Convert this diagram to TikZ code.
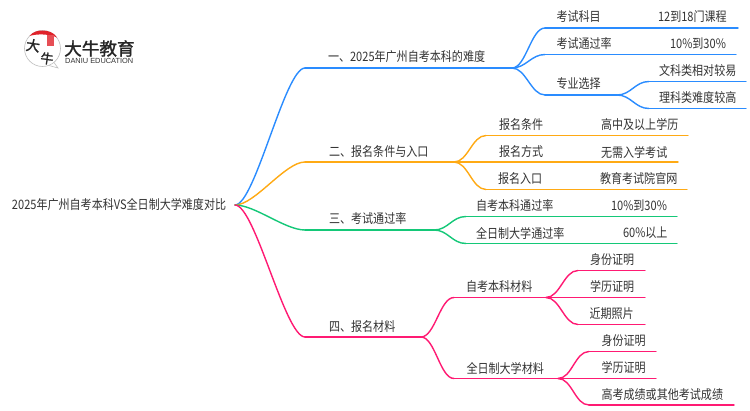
\documentclass[tikz,border=0pt]{standalone}
\usepackage{fontspec}
\setmainfont{Noto Sans CJK SC}[FakeStretch=0.85]
\newfontfamily\logofont{Noto Sans CJK SC}[FakeBold=1.5]
\newfontfamily\latinlogo{Liberation Sans}
\definecolor{cblue}{HTML}{2A8CFF}
\definecolor{corange}{HTML}{FFAA14}
\definecolor{cgreen}{HTML}{14C878}
\definecolor{cpink}{HTML}{FF1A73}
\definecolor{ctext}{HTML}{333333}
\definecolor{cred}{HTML}{E0222A}
\tikzset{
  lbl/.style={anchor=west,inner sep=0pt,outer sep=0pt,text=ctext,font=\fontsize{13}{13}\selectfont},
  branch/.style={line width=1.4pt,line cap=round,line join=round},
  bb/.style={branch,cblue}, oo/.style={branch,corange}, gg/.style={branch,cgreen}, pp/.style={branch,cpink}
}
\newcommand{\rootcurve}[3]{\draw[#1] (#2) .. controls +(20,0) and +(-20,0) .. (#3);}
\newcommand{\subcurve}[3]{\draw[#1] (#2) .. controls +(14,0) and +(-14,0) .. (#3);}
\begin{document}
\begin{tikzpicture}[x=1pt,y=-1pt]
\useasboundingbox (0,0) rectangle (750,410);
\fill[white] (0,0) rectangle (750,410);

% logo
\draw[gray!50,line width=0.6pt] (42.5,48.5) circle[radius=18];
\draw[gray!50,line width=0.6pt] (54,62.5) -- (58,68) -- (49,65.5);
\fill[cred] (29.5,36) .. controls (33,31.5) and (38,30.5) .. (42.5,30.5) .. controls (48,30.5) and (54,32.5) .. (57,37.5) .. controls (50,34) and (37,33.5) .. cycle;
\fill[cred!80] (47,35) rectangle (53.5,46);
\node[inner sep=0pt,text=black!85,rotate=-8,font=\logofont\fontsize{14}{14}\selectfont] (logoa) at (33,45.5) {大};
\node[inner sep=0pt,text=black!85,rotate=-8,font=\logofont\fontsize{13}{13}\selectfont] (logob) at (47,58.5) {牛};
\node[anchor=west,inner sep=0pt,text=black!85,font=\logofont\fontsize{17.6}{18}\selectfont] (logoname) at (64,48.5) {大牛教育};
\node[anchor=west,inner sep=0pt,text=black!80,font=\latinlogo\fontsize{7.4}{8}\selectfont] (logoen) at (65,60.5) {DANIU EDUCATION};

% junction coordinates
\coordinate (root) at (235,205);
\coordinate (A) at (305,68);   \coordinate (Ae) at (512,68);
\coordinate (B) at (305,162);  \coordinate (Be) at (454,162);
\coordinate (C) at (305,230);  \coordinate (Ce) at (434,230);
\coordinate (D) at (305,337);  \coordinate (De) at (421,337);

\coordinate (A1) at (545,28);   \coordinate (A1e) at (738,28);
\coordinate (A2) at (545,54.5); \coordinate (A2e) at (736,54.5);
\coordinate (A3) at (545,95);   \coordinate (A3e) at (617,95);
\coordinate (A31) at (649,81.5); \coordinate (A31e) at (746,81.5);
\coordinate (A32) at (649,108.5); \coordinate (A32e) at (746,108.5);

\coordinate (B1) at (486,135.5); \coordinate (B1e) at (688,135.5);
\coordinate (B2e) at (678,162);
\coordinate (B3) at (486,189.5); \coordinate (B3e) at (687,189.5);

\coordinate (C1) at (466,216.5); \coordinate (C1e) at (677,216.5);
\coordinate (C2) at (466,243.5); \coordinate (C2e) at (677,243.5);

\coordinate (D1) at (454,297.5); \coordinate (D1e) at (546,297.5);
\coordinate (D2) at (454,378.5); \coordinate (D2e) at (558,378.5);
\coordinate (D11) at (578,270.5); \coordinate (D11e) at (645,270.5);
\coordinate (D12e) at (645,297.5);
\coordinate (D13) at (578,324.5); \coordinate (D13e) at (645,324.5);
\coordinate (D21) at (589,351.5); \coordinate (D21e) at (656,351.5);
\coordinate (D22e) at (656,378.5);
\coordinate (D23) at (589,405); \coordinate (D23e) at (734,405);

% connectors
\rootcurve{bb}{root}{A} \draw[bb] (A) -- (Ae);
\rootcurve{oo}{root}{B} \draw[oo] (B) -- (Be);
\rootcurve{gg}{root}{C} \draw[gg] (C) -- (Ce);
\rootcurve{pp}{root}{D} \draw[pp] (D) -- (De);

\subcurve{bb}{Ae}{A1} \draw[bb] (A1) -- (A1e);
\subcurve{bb}{Ae}{A2} \draw[bb] (A2) -- (A2e);
\subcurve{bb}{Ae}{A3} \draw[bb] (A3) -- (A3e);
\subcurve{bb}{A3e}{A31} \draw[bb] (A31) -- (A31e);
\subcurve{bb}{A3e}{A32} \draw[bb] (A32) -- (A32e);

\subcurve{oo}{Be}{B1} \draw[oo] (B1) -- (B1e);
\draw[oo] (Be) -- (B2e);
\subcurve{oo}{Be}{B3} \draw[oo] (B3) -- (B3e);

\subcurve{gg}{Ce}{C1} \draw[gg] (C1) -- (C1e);
\subcurve{gg}{Ce}{C2} \draw[gg] (C2) -- (C2e);

\subcurve{pp}{De}{D1} \draw[pp] (D1) -- (D1e);
\subcurve{pp}{De}{D2} \draw[pp] (D2) -- (D2e);
\subcurve{pp}{D1e}{D11} \draw[pp] (D11) -- (D11e);
\draw[pp] (D1e) -- (D12e);
\subcurve{pp}{D1e}{D13} \draw[pp] (D13) -- (D13e);
\subcurve{pp}{D2e}{D21} \draw[pp] (D21) -- (D21e);
\draw[pp] (D2e) -- (D22e);
\subcurve{pp}{D2e}{D23} \draw[pp] (D23) -- (D23e);

% labels
\node[lbl] (troot) at (12,205) {2025年广州自考本科VS全日制大学难度对比};
\node[lbl] (tA) at (328,57) {一、2025年广州自考本科的难度};
\node[lbl] (tB) at (329,151.5) {二、报名条件与入口};
\node[lbl] (tC) at (329,219) {三、考试通过率};
\node[lbl] (tD) at (329,327) {四、报名材料};

\node[lbl] (tA1) at (556.5,17) {考试科目};
\node[lbl] (tA1v) at (658,16.5) {12到18门课程};
\node[lbl] (tA2) at (556.5,44) {考试通过率};
\node[lbl] (tA2v) at (670,44) {10\%到30\%};
\node[lbl] (tA3) at (556.5,84) {专业选择};
\node[lbl] (tA31) at (659,71) {文科类相对较易};
\node[lbl] (tA32) at (659,98) {理科类难度较高};

\node[lbl] (tB1) at (499,125) {报名条件};
\node[lbl] (tB1v) at (601,125) {高中及以上学历};
\node[lbl] (tB2) at (499,152) {报名方式};
\node[lbl] (tB2v) at (601,152) {无需入学考试};
\node[lbl] (tB3) at (498,179) {报名入口};
\node[lbl] (tB3v) at (600,179) {教育考试院官网};

\node[lbl] (tC1) at (476,206) {自考本科通过率};
\node[lbl] (tC1v) at (611,205.5) {10\%到30\%};
\node[lbl] (tC2) at (476,233) {全日制大学通过率};
\node[lbl] (tC2v) at (623,233) {60\%以上};

\node[lbl] (tD1) at (466,287) {自考本科材料};
\node[lbl] (tD2) at (466.5,368) {全日制大学材料};
\node[lbl] (tD11) at (590,260) {身份证明};
\node[lbl] (tD12) at (590,287) {学历证明};
\node[lbl] (tD13) at (589.5,314) {近期照片};
\node[lbl] (tD21) at (601.5,341) {身份证明};
\node[lbl] (tD22) at (601.5,368) {学历证明};
\node[lbl] (tD23) at (601.5,395) {高考成绩或其他考试成绩};
\end{tikzpicture}
\end{document}
